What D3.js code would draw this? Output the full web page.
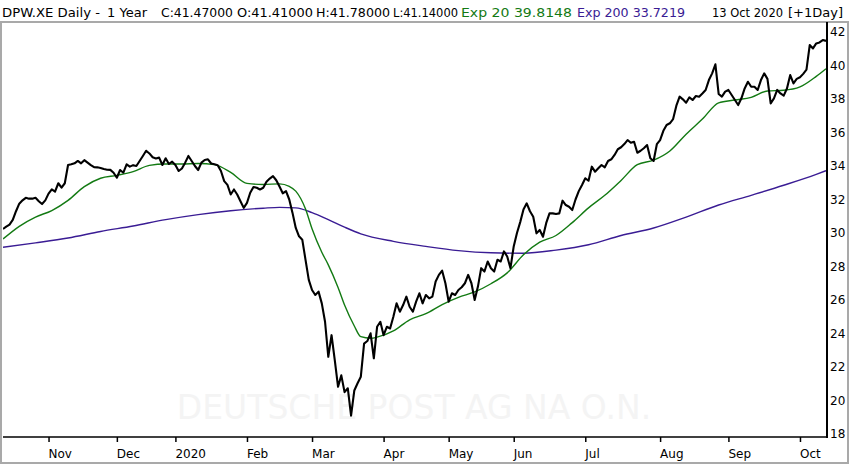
<!DOCTYPE html>
<html>
<head>
<meta charset="utf-8">
<script src="https://cdn.jsdelivr.net/npm/d3@7/dist/d3.min.js"></script>
<style>
  html, body { margin: 0; padding: 0; background: #fff; }
  svg { display: block; }
  text { font-family: "DejaVu Sans", Verdana, sans-serif; }
</style>
</head>
<body>
<svg id="chart" width="850" height="465"></svg>
<script>
// ---------- DATA ----------
// Trading days per calendar month shown (Oct 2019 partial ... Oct 2020 partial)
const monthCounts = [14, 21, 18, 22, 20, 22, 20, 20, 22, 23, 21, 22, 9];
// Labels for the month starts after the first partial month
const monthLabels = ["Nov", "Dec", "2020", "Feb", "Mar", "Apr", "May", "Jun", "Jul", "Aug", "Sep", "Oct"];
const yTicks = [18, 20, 22, 24, 26, 28, 30, 32, 34, 36, 38, 40, 42];

// Daily closes, by month
const closeOct19 = [30.24,30.38,30.5,30.78,31.3,31.75,31.95,32.1,32.05,32.05,32.1,31.9,31.73,31.95];
const closeNov19 = [32.35,32.6,32.47,32.97,32.71,32.97,34.06,34.1,34.16,34.3,34.16,34.35,34.2,34.05,33.93,33.92,33.88,33.82,33.78,33.77,33.6];
const closeDec19 = [33.3,33.76,33.6,34.1,33.96,34.05,34.0,34.3,34.6,34.91,34.75,34.52,34.45,34.5,34.06,34.46,34.12,34.26];
const closeJan20 = [34.06,33.7,33.85,34.2,34.6,34.3,34.0,33.76,34.2,34.36,34.4,34.15,34.1,34.05,33.7,33.1,32.87,32.3,32.6,32.3,31.9,31.5];
const closeFeb20 = [31.8,32.4,32.75,32.7,32.6,32.7,33.06,33.25,33.4,33.15,32.77,32.37,32.5,32.0,31.2,30.3,29.8,29.6,28.4,27.2];
const closeMar20 = [26.6,26.3,26.5,25.8,24.7,22.61,23.9,22.4,20.82,21.5,20.5,20.73,19.1,20.6,21.03,21.42,23.4,23.55,24.01,22.52,24.4,24.7];
const closeApr20 = [23.9,24.4,24.3,25.0,25.8,25.3,25.7,26.2,25.6,25.3,25.9,26.4,25.8,26.3,26.1,26.2,27.1,27.5,27.75,27.0];
const closeMay20 = [25.9,26.4,26.3,26.6,26.76,27.0,27.5,27.0,26.0,26.8,27.9,27.7,28.3,27.9,27.7,28.4,28.3,28.9,28.6,27.9];
const closeJun20 = [29.2,30.0,30.65,31.4,31.77,31.3,30.97,29.98,30.18,29.78,30.6,31.17,31.17,31.13,31.17,31.93,31.67,31.57,31.37,32.0,32.5,32.87];
const closeJul20 = [33.27,33.12,33.96,33.66,33.86,34.06,33.92,34.3,34.4,34.66,35.0,35.12,35.31,35.55,35.39,35.45,34.79,34.91,35.06,35.25,34.46,34.3,35.3];
const closeAug20 = [35.55,36.1,36.45,36.55,36.8,37.6,38.14,37.98,37.78,38.1,37.94,38.18,38.14,38.33,38.54,39.13,39.53,40.07,38.3,38.14,38.44];
const closeSep20 = [38.54,38.24,37.94,37.64,38.04,38.63,39.03,38.73,38.73,38.54,39.13,39.53,39.2,37.74,38.04,38.54,38.33,38.2,38.63,39.43,38.93,39.2];
const closeOct20 = [39.3,39.5,39.75,41.22,41.02,41.32,41.38,41.52,41.47];

// Exponential moving averages, read at selected trading-day numbers
const ema20Days = [0,5,10,15,20,25,30,35,40,45,50,55,60,65,70,75,80,85,88,90,93,95,98,100,103,105,108,110,113,115,120,125,130,135,140,145,150,155,160,165,170,175,180,185,190,195,200,205,210,215,220,225,230,235,240,245,250,253];
const ema20Vals = [29.64,30.4,30.95,31.34,31.95,32.77,33.27,33.44,33.66,34.04,34.12,34.12,34.15,34.08,33.62,32.96,32.9,32.93,32.78,32.5,31.43,30.25,28.85,28.1,26.75,25.7,24.45,23.81,23.72,23.78,24.15,24.82,25.18,25.73,26.16,26.48,26.97,27.62,28.7,29.45,29.85,30.62,31.5,32.25,33.14,34.08,34.35,34.9,35.9,36.8,37.77,37.94,38.1,38.48,38.52,38.72,39.35,39.81];
const ema200Days = [0,10,20,30,40,50,60,70,80,85,90,95,100,105,110,120,130,140,150,160,170,180,190,200,210,220,230,240,250,253];
const ema200Vals = [29.15,29.41,29.7,30.09,30.42,30.8,31.1,31.33,31.48,31.53,31.5,31.22,30.8,30.35,29.95,29.5,29.2,28.95,28.82,28.79,28.98,29.3,29.85,30.3,30.95,31.67,32.25,32.85,33.5,33.72];

// Header pieces
const headerTexts = ["DPW.XE Daily -", "1 Year", "C:41.47000", "O:41.41000", "H:41.78000", "L:41.14000",
  "Exp 20 39.8148", "Exp 200 33.7219", "13 Oct 2020", "[+1Day]"];

// ---------- BUILD ----------
const closes = [].concat(closeOct19, closeNov19, closeDec19, closeJan20, closeFeb20, closeMar20,
  closeApr20, closeMay20, closeJun20, closeJul20, closeAug20, closeSep20, closeOct20);
const N = closes.length;
const monthStarts = [];
{ let acc = 0; for (let k = 0; k < monthCounts.length - 1; k++) { acc += monthCounts[k]; monthStarts.push(acc); } }

const GREEN = "#137a13", PURPLE = "#3a1c94";
const svg = d3.select("#chart");
const plot = { left: 3, right: 827, top: 22, bottom: 437 };

const x = d3.scaleLinear().domain([0, N - 1]).range([3, 826]);
const y = d3.scaleLinear().domain([18, 42]).range([434, 32]);

// frame
svg.append("rect").attr("x", 1).attr("y", plot.top).attr("width", 847).attr("height", 441)
  .attr("fill", "none").attr("stroke", "#a9a9a9").attr("stroke-width", 2);

// watermark
svg.append("text").attr("x", 414).attr("y", 419).attr("text-anchor", "middle")
  .attr("font-size", 33).attr("fill", "#f4f4f4").text("DEUTSCHE POST AG NA O.N.");

svg.append("clipPath").attr("id", "clip").append("rect")
  .attr("x", plot.left).attr("y", plot.top).attr("width", plot.right - plot.left).attr("height", plot.bottom - plot.top);
const g = svg.append("g").attr("clip-path", "url(#clip)");

const smooth = d3.line().x(d => x(d[0])).y(d => y(d[1])).curve(d3.curveMonotoneX);
g.append("path").datum(ema200Days.map((d, i) => [d, ema200Vals[i]]))
  .attr("d", smooth).attr("fill", "none").attr("stroke", PURPLE).attr("stroke-width", 1.4);
g.append("path").datum(ema20Days.map((d, i) => [d, ema20Vals[i]]))
  .attr("d", smooth).attr("fill", "none").attr("stroke", GREEN).attr("stroke-width", 1.4);
g.append("path").datum(closes)
  .attr("d", d3.line().x((d, i) => x(i)).y(d => y(d)))
  .attr("fill", "none").attr("stroke", "#000").attr("stroke-width", 2.1).attr("stroke-linejoin", "round");

// x axis
const xAxis = d3.axisBottom(x).tickValues(monthStarts).tickSize(5).tickPadding(3)
  .tickFormat((d, i) => monthLabels[i]);
const xg = svg.append("g").attr("transform", `translate(0,${plot.bottom})`).call(xAxis);
xg.select(".domain").remove();
xg.selectAll(".tick line").attr("stroke", "#000").attr("stroke-width", 1.5);
xg.selectAll(".tick text").attr("text-anchor", "start").attr("dx", -0.5).attr("y", 0).attr("dy", 21)
  .attr("font-size", 12).attr("font-family", "DejaVu Sans").attr("fill", "#000");
svg.append("line").attr("x1", plot.left).attr("x2", plot.right).attr("y1", plot.bottom).attr("y2", plot.bottom)
  .attr("stroke", "#000").attr("stroke-width", 1.5);

// y axis (right)
svg.append("line").attr("x1", plot.right).attr("x2", plot.right).attr("y1", plot.top).attr("y2", plot.bottom + 1)
  .attr("stroke", "#000").attr("stroke-width", 2);
const yLab = svg.append("g").attr("class", "ylabels");
yTicks.forEach(v => {
  yLab.append("text")
    .attr("x", plot.right + 3).attr("y", y(v) + 4.3)
    .attr("font-size", 12).attr("font-family", "DejaVu Sans").attr("fill", "#000")
    .text(String(v));
});

// header
const headerX = [2, 107, 161, 237, 316, 393, 461, 577, 712, 788];
const headerW = [98, 40, 72, 76, 74, 65, 111, 108, 71, 55];
const headerC = ["#000", "#000", "#000", "#000", "#000", "#000", GREEN, PURPLE, "#000", "#000"];
svg.append("g").selectAll("text").data(headerTexts).join("text")
  .attr("x", (d, i) => headerX[i]).attr("y", 17)
  .attr("font-family", "Noto Sans").attr("font-size", 13)
  .attr("textLength", (d, i) => headerW[i]).attr("lengthAdjust", "spacingAndGlyphs")
  .attr("fill", (d, i) => headerC[i]).text(d => d);
</script>
</body>
</html>
